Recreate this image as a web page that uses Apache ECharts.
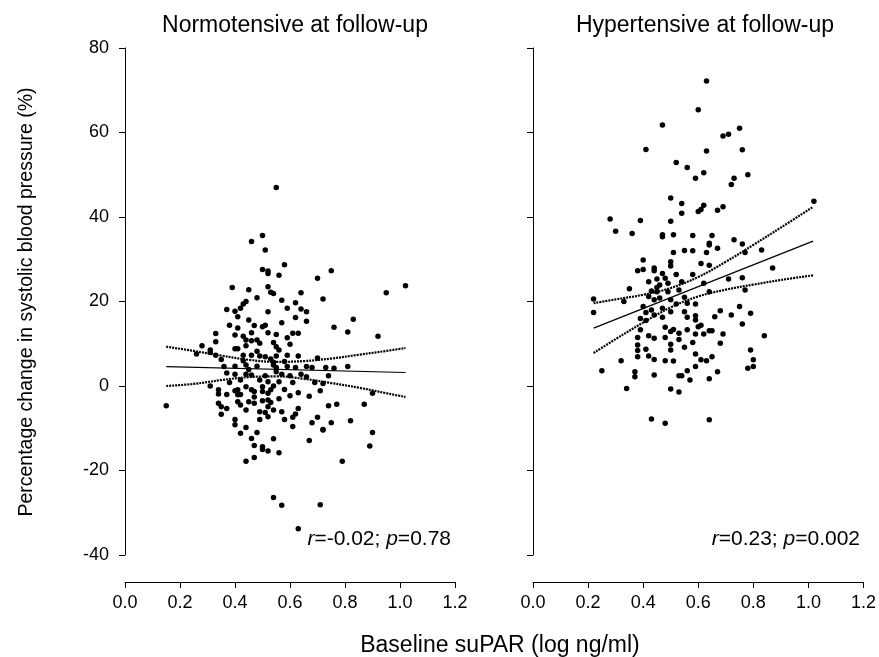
<!DOCTYPE html>
<html>
<head>
<meta charset="utf-8">
<script src="https://cdn.jsdelivr.net/npm/echarts@6/dist/echarts.min.js"></script>
<style>
html,body{margin:0;padding:0;background:#fff;}
#chart{width:879px;height:657px;}
</style>
</head>
<body>
<div id="chart"></div>
<script>
// 数据: [suPAR (log ng/ml), 收缩压变化 %]
var normoPoints = [
	[0.50,35.6],[0.46,34.2],[0.51,32.2],[0.58,28.7],[0.50,27.6],[0.52,27.2],[0.52,26.6],[0.56,26.2],[0.75,27.3],[0.70,25.5],
	[1.02,23.7],[0.95,22.1],[0.39,23.3],[0.45,22.8],[0.52,23.5],[0.53,22.2],[0.54,21.9],[0.64,22.1],[0.48,20.9],[0.57,20.3],
	[0.72,20.6],[0.44,20.0],[0.62,19.7],[0.43,19.4],[0.37,18.1],[0.42,18.4],[0.40,17.7],[0.59,18.4],[0.64,18.2],[0.66,17.6],
	[0.52,17.6],[0.41,16.4],[0.62,16.2],[0.45,15.6],[0.66,15.3],[0.83,15.8],[0.38,14.4],[0.41,13.7],[0.47,14.3],[0.50,14.0],
	[0.51,14.4],[0.76,13.9],[0.81,12.8],[0.92,11.8],[0.33,12.4],[0.40,12.1],[0.46,12.6],[0.52,12.6],[0.55,12.2],[0.59,11.4],
	[0.61,12.5],[0.63,12.5],[0.44,10.9],[0.46,10.7],[0.48,10.9],[0.49,10.1],[0.33,10.5],[0.54,10.3],[0.55,9.3],[0.60,9.9],
	[0.28,9.5],[0.44,9.5],[0.40,8.8],[0.41,8.8],[0.31,8.5],[0.56,8.5],[0.26,7.6],[0.31,7.9],[0.33,7.3],[0.43,7.3],
	[0.46,7.3],[0.49,7.1],[0.51,6.9],[0.55,7.1],[0.59,7.3],[0.63,7.1],[0.70,6.6],[0.35,6.3],[0.43,6.0],[0.54,5.6],
	[0.36,4.6],[0.40,4.7],[0.44,5.0],[0.48,4.7],[0.54,5.0],[0.55,4.4],[0.59,4.6],[0.62,4.4],[0.66,4.6],[0.68,4.4],
	[0.73,4.4],[0.76,4.2],[0.81,4.6],[0.37,3.1],[0.40,2.8],[0.44,2.8],[0.46,2.6],[0.51,2.4],[0.55,3.4],[0.57,2.8],
	[0.60,2.4],[0.64,2.8],[0.66,2.2],[0.74,2.4],[0.38,0.8],[0.42,1.4],[0.49,1.4],[0.52,1.0],[0.56,1.0],[0.61,0.8],
	[0.69,0.8],[0.72,0.6],[0.31,0.0],[0.44,-0.2],[0.50,-0.2],[0.54,0.0],[0.58,-0.8],[0.34,-0.9],[0.40,-1.1],[0.41,-0.9],
	[0.46,-0.9],[0.47,-1.3],[0.50,-1.3],[0.52,-1.7],[0.53,-0.9],[0.63,-1.6],[0.71,-1.1],[0.90,-1.7],[0.34,-1.9],[0.37,-2.0],
	[0.41,-2.1],[0.42,-2.0],[0.60,-2.3],[0.67,-2.4],[0.52,-3.3],[0.41,-3.7],[0.45,-3.7],[0.47,-4.1],[0.50,-3.5],[0.53,-3.9],
	[0.15,-4.7],[0.34,-4.1],[0.35,-4.9],[0.74,-4.7],[0.77,-4.3],[0.87,-4.3],[0.42,-4.5],[0.52,-4.9],[0.63,-5.3],[0.44,-5.7],
	[0.49,-6.1],[0.51,-6.3],[0.54,-5.7],[0.57,-6.1],[0.35,-6.7],[0.62,-6.6],[0.70,-7.4],[0.40,-7.9],[0.49,-7.9],[0.52,-7.3],
	[0.58,-7.9],[0.61,-7.4],[0.68,-8.7],[0.75,-8.7],[0.82,-8.2],[0.40,-9.2],[0.44,-9.8],[0.61,-9.6],[0.72,-10.3],[0.42,-11.2],
	[0.48,-11.0],[0.46,-12.4],[0.54,-12.5],[0.47,-14.1],[0.50,-14.4],[0.50,-15.0],[0.52,-15.4],[0.56,-15.8],[0.44,-17.8],[0.47,-16.9],
	[0.67,-12.9],[0.72,-10.4],[0.90,-11.0],[0.89,-14.2],[0.79,-17.8],[0.54,-26.4],[0.57,-28.2],[0.71,-28.1],[0.63,-33.8],[0.55,47.0],
	[0.37,-5.3],[0.48,8.2],[0.53,6.4],[0.45,3.9],[0.58,5.8],[0.47,-2.6],[0.56,-3.0],[0.43,11.8],[0.57,15.0]
];
var hyperPoints = [
	[0.63,72.2],[0.60,65.4],[0.47,61.8],[0.41,56.0],[0.63,55.6],[0.69,59.2],[0.71,59.6],[0.75,61.0],[0.76,55.9],[0.52,52.9],
	[0.56,51.7],[0.59,49.2],[0.62,50.5],[0.78,50.0],[0.73,49.2],[0.72,47.7],[0.50,44.5],[0.54,43.2],[0.62,42.8],[0.61,41.8],
	[0.60,41.3],[0.54,40.9],[0.67,41.6],[0.69,42.4],[1.02,43.7],[0.28,39.5],[0.39,39.2],[0.50,39.0],[0.30,36.6],[0.36,36.1],
	[0.47,35.8],[0.47,35.3],[0.51,35.8],[0.58,35.6],[0.65,35.6],[0.73,34.6],[0.64,33.8],[0.64,33.4],[0.67,32.6],[0.76,33.6],
	[0.83,32.2],[0.77,31.6],[0.51,31.6],[0.55,32.1],[0.58,32.0],[0.63,31.6],[0.40,29.8],[0.38,27.3],[0.40,27.6],[0.44,27.9],
	[0.44,27.3],[0.50,29.4],[0.50,28.4],[0.61,29.0],[0.64,28.6],[0.52,26.4],[0.58,26.4],[0.71,25.3],[0.76,25.6],[0.87,27.9],
	[0.42,24.7],[0.45,25.3],[0.48,25.5],[0.46,23.9],[0.49,24.3],[0.54,24.7],[0.62,24.3],[0.35,23.0],[0.43,22.5],[0.45,22.3],
	[0.49,22.3],[0.53,22.7],[0.64,22.3],[0.77,22.7],[0.22,20.6],[0.33,20.0],[0.44,20.4],[0.50,20.4],[0.22,17.4],[0.40,18.8],
	[0.43,18.0],[0.47,18.4],[0.52,19.4],[0.56,19.6],[0.59,19.4],[0.41,17.4],[0.39,16.0],[0.44,16.8],[0.47,16.3],[0.50,17.6],
	[0.55,17.6],[0.56,16.3],[0.59,16.6],[0.68,17.8],[0.75,18.8],[0.79,17.2],[0.66,16.4],[0.72,16.8],[0.41,15.5],[0.59,15.6],
	[0.76,14.7],[0.48,13.9],[0.51,13.4],[0.61,14.4],[0.39,13.3],[0.50,12.9],[0.53,12.5],[0.56,13.3],[0.60,14.0],[0.59,12.3],
	[0.62,12.3],[0.64,13.1],[0.65,13.1],[0.69,12.3],[0.84,11.9],[0.38,11.5],[0.42,11.9],[0.44,11.3],[0.48,11.5],[0.53,11.0],
	[0.58,10.3],[0.68,10.1],[0.38,9.7],[0.50,9.9],[0.55,9.2],[0.38,8.4],[0.41,8.7],[0.50,8.5],[0.79,8.5],[0.38,6.9],
	[0.42,7.1],[0.59,7.6],[0.32,6.0],[0.44,6.3],[0.48,6.0],[0.51,5.9],[0.61,6.2],[0.63,6.0],[0.65,6.9],[0.80,6.2],
	[0.78,4.2],[0.80,4.6],[0.25,3.6],[0.37,3.4],[0.37,2.2],[0.44,2.6],[0.59,4.6],[0.56,3.6],[0.67,3.4],[0.53,2.4],
	[0.54,2.4],[0.57,1.4],[0.64,1.7],[0.34,-0.6],[0.50,-0.7],[0.53,-1.4],[0.43,-7.8],[0.48,-8.8],[0.64,-8.0],[0.42,21.2],
	[0.46,20.8],[0.47,26.6],[0.45,23.3],[0.55,21.0]
];
var normoAnno = '{i|r}=-0.02; {i|p}=0.78';
var hyperAnno = '{i|r}=0.23; {i|p}=0.002';
// 回归线及95%置信区间
var normoFitX = [0.15, 1.02];
var normoFitY = [4.6, 3.2];
var normoCiX = [0.15, 0.25, 0.35, 0.45, 0.55, 0.65, 0.75, 0.85, 0.95, 1.02];
var normoUpper = [9.3, 8.3, 7.2, 6.2, 5.7, 5.9, 6.5, 7.4, 8.3, 9.0];
var normoLower = [0.0, 0.5, 1.4, 2.1, 2.3, 1.7, 0.7, -0.4, -1.7, -2.6];
var hyperFitX = [0.22, 1.017];
var hyperFitY = [13.7, 34.3];
var hyperCiX = [0.22, 0.3, 0.4, 0.5, 0.6, 0.7, 0.8, 0.9, 1.017];
var hyperUpper = [19.6, 20.5, 21.6, 23.2, 25.8, 29.4, 33.4, 37.5, 42.4];
var hyperLower = [7.8, 11.1, 15.0, 18.6, 21.2, 22.8, 24.0, 25.1, 26.2];
var xTicks = [0, 1.2, 0.2];
var yTicks = [-40, 80, 20];

var font = '"Liberation Sans", Arial, sans-serif';

function zip(xs, ys) {
	var out = [];
	for (var i = 0; i < xs.length; i++) {
		out.push([xs[i], ys[i]]);
	}
	return out;
}

function xAxisCfg(idx) {
	return {
		type: 'value',
		gridIndex: idx,
		min: xTicks[0],
		max: xTicks[1],
		interval: xTicks[2],
		offset: 27,
		axisLine: { show: true, onZero: false, lineStyle: { color: '#000', width: 1 } },
		axisTick: { show: true, length: 6, lineStyle: { color: '#000' } },
		axisLabel: {
			color: '#000', fontSize: 18, fontFamily: font, margin: 12,
			formatter: function(v) { return v.toFixed(1); }
		},
		splitLine: { show: false }
	};
}

function yAxisCfg(idx, showLabel) {
	return {
		type: 'value',
		gridIndex: idx,
		min: yTicks[0],
		max: yTicks[1],
		interval: yTicks[2],
		axisLine: { show: true, lineStyle: { color: '#000', width: 1 } },
		axisTick: { show: true, length: 6, lineStyle: { color: '#000' } },
		axisLabel: { show: showLabel, color: '#000', fontSize: 18, fontFamily: font, margin: 16 },
		splitLine: { show: false }
	};
}

function lineSeries(idx, data, dotted) {
	return {
		type: 'line',
		xAxisIndex: idx,
		yAxisIndex: idx,
		data: data,
		smooth: dotted ? 0.4 : false,
		symbol: 'none',
		silent: true,
		z: 3,
		lineStyle: dotted ? { color: '#000', width: 2.2, type: [2, 1] } : { color: '#000', width: 1.2 }
	};
}

function scatterSeries(idx, data) {
	return {
		type: 'scatter',
		xAxisIndex: idx,
		yAxisIndex: idx,
		data: data,
		symbolSize: 5.5,
		itemStyle: { color: '#000', opacity: 1 },
		z: 2
	};
}

var annoStyle = {
	fontSize: 21, fontWeight: 'normal', color: '#000', fontFamily: font,
	rich: { i: { fontStyle: 'italic', fontSize: 21, fontFamily: font, color: '#000' } }
};

var myChart = echarts.init(document.getElementById('chart'));
var option = {
	backgroundColor: '#fff',
	animation: false,
	title: [
		{ text: 'Normotensive at follow-up', left: 290, top: 9, textAlign: 'center',
			textStyle: { fontSize: 23, fontWeight: 'normal', color: '#000', fontFamily: font } },
		{ text: 'Hypertensive at follow-up', left: 700, top: 9, textAlign: 'center',
			textStyle: { fontSize: 23, fontWeight: 'normal', color: '#000', fontFamily: font } },
		{ text: normoAnno, right: 879 - 456, top: 524, textStyle: annoStyle },
		{ text: hyperAnno, right: 879 - 865, top: 524, textStyle: annoStyle },
		{ text: 'Baseline suPAR (log ng/ml)', left: 495, top: 629, textAlign: 'center',
			textStyle: { fontSize: 23, fontWeight: 'normal', color: '#000', fontFamily: font } }
	],
	graphic: [{
		type: 'text',
		x: 27,
		y: 302,
		rotation: Math.PI / 2,
		style: {
			text: 'Percentage change in systolic blood pressure (%)',
			fill: '#000',
			font: '19.5px ' + font,
			align: 'center',
			verticalAlign: 'middle'
		}
	}],
	grid: [
		{ left: 125, top: 48, width: 330, height: 507 },
		{ left: 533, top: 48, width: 331, height: 507 }
	],
	xAxis: [xAxisCfg(0), xAxisCfg(1)],
	yAxis: [yAxisCfg(0, true), yAxisCfg(1, false)],
	series: [
		scatterSeries(0, normoPoints),
		lineSeries(0, zip(normoFitX, normoFitY), false),
		lineSeries(0, zip(normoCiX, normoUpper), true),
		lineSeries(0, zip(normoCiX, normoLower), true),
		scatterSeries(1, hyperPoints),
		lineSeries(1, zip(hyperFitX, hyperFitY), false),
		lineSeries(1, zip(hyperCiX, hyperUpper), true),
		lineSeries(1, zip(hyperCiX, hyperLower), true)
	]
};
myChart.setOption(option);
</script>
</body>
</html>
